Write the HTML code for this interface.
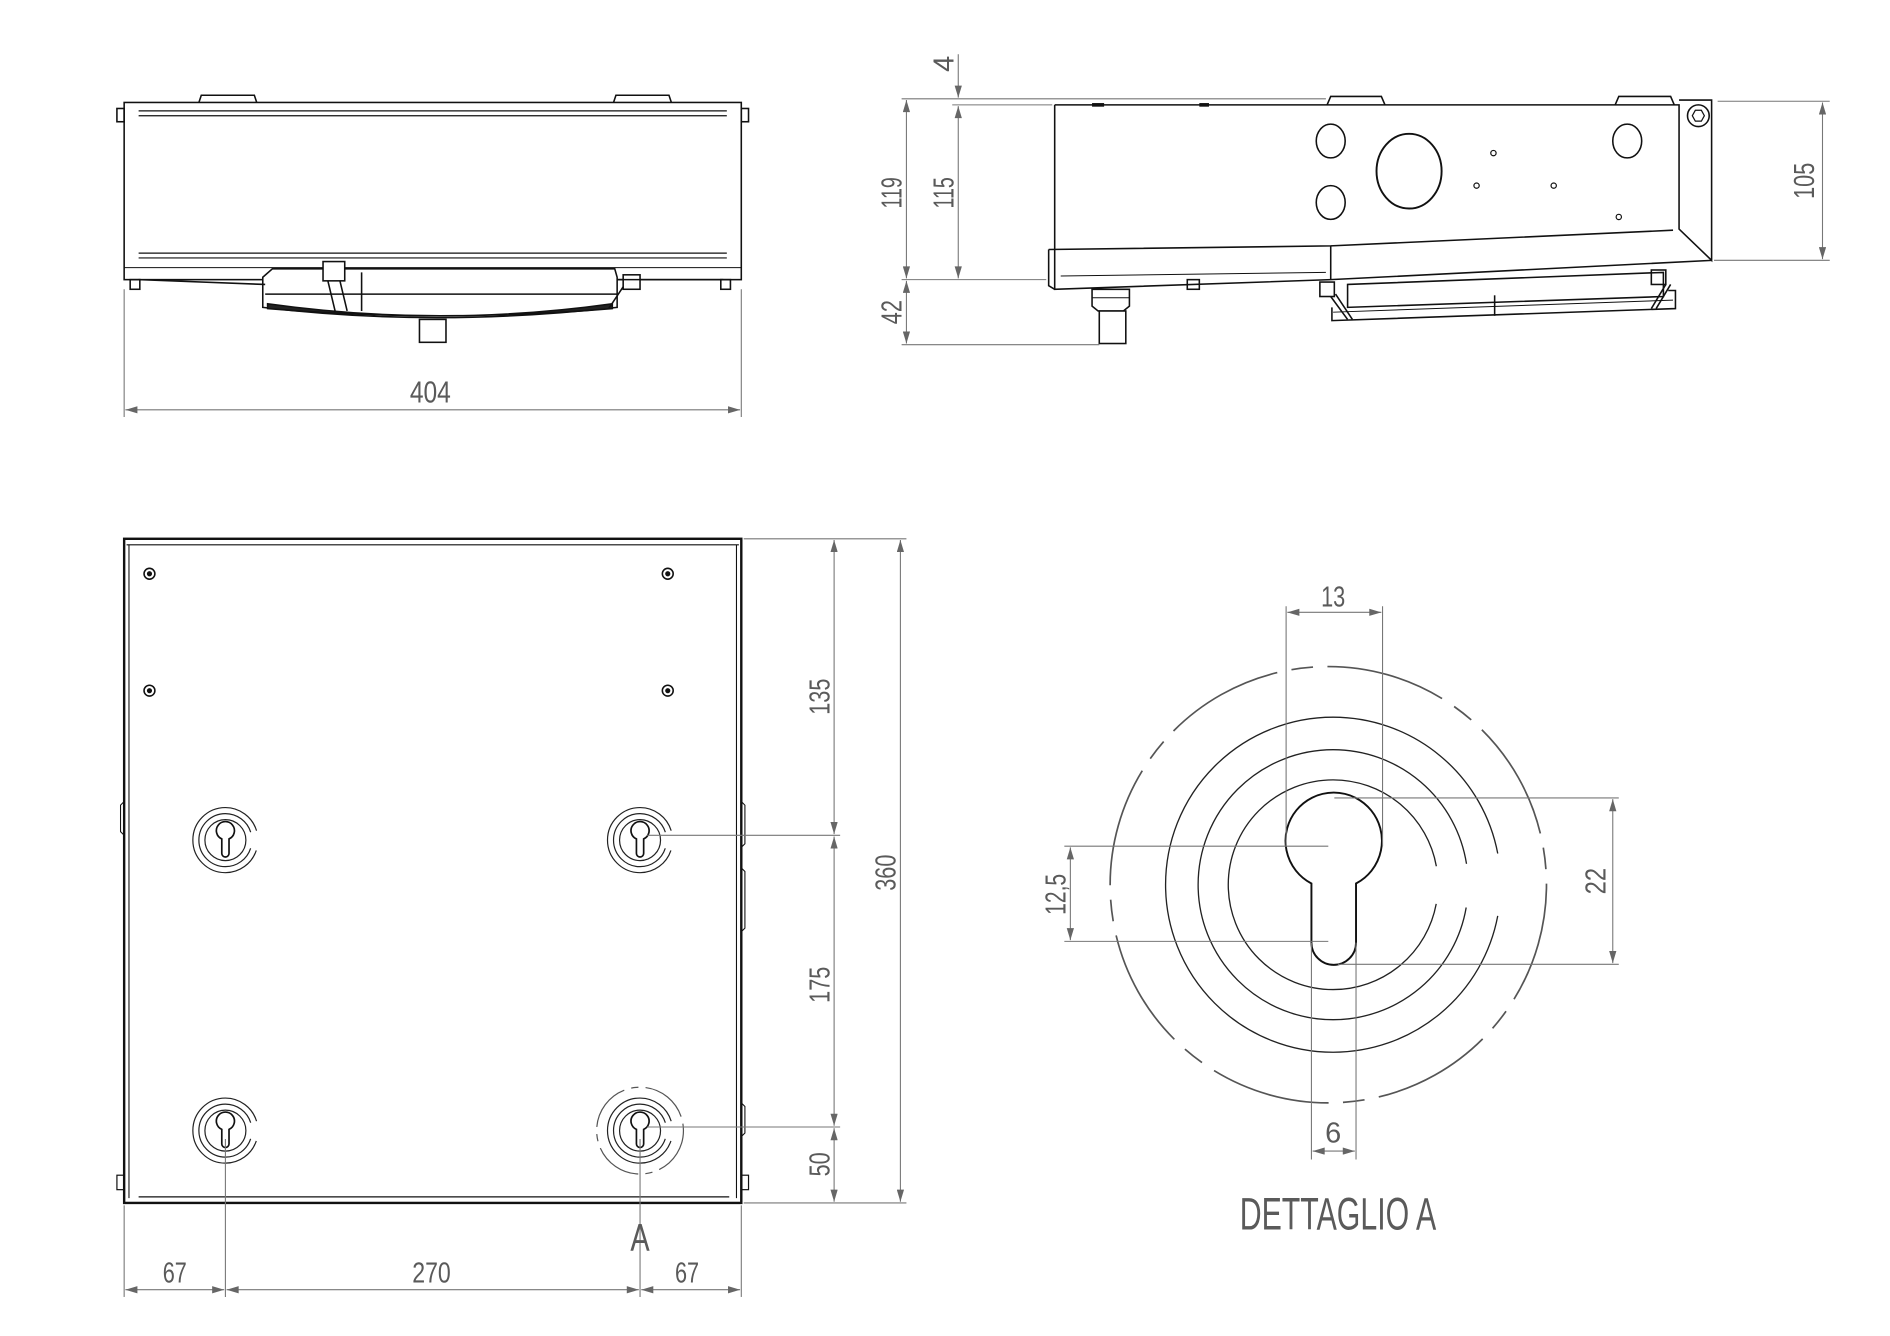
<!DOCTYPE html>
<html><head><meta charset="utf-8"><style>
html,body{margin:0;padding:0;background:#fff;}
svg{display:block}
text{font-family:"Liberation Sans Narrow","Liberation Sans",sans-serif;fill:#5a5a5a;}
</style></head><body>
<svg width="1890" height="1336" viewBox="0 0 1568 1108.4" preserveAspectRatio="none" xmlns="http://www.w3.org/2000/svg">
<defs>
<marker id="a" viewBox="0 0 10 6" refX="10" refY="3" markerWidth="14" markerHeight="6" markerUnits="userSpaceOnUse" orient="auto-start-reverse"><path d="M0,0L10,3L0,6Z" fill="#666"/></marker>
<g id="kh">
 <circle r="27" fill="none" stroke="#222" stroke-width="1" stroke-dasharray="152.7 17" stroke-dashoffset="161"/>
 <circle r="22" fill="none" stroke="#222" stroke-width="1" stroke-dasharray="124.4 13.8" stroke-dashoffset="131.3"/>
 <circle r="17" fill="none" stroke="#222" stroke-width="1"/>
 <path d="M-3,-1 A7.5,7.5 0 1 1 3,-1 L3,11 A3,3 0 0 1 -3,11 Z" fill="none" stroke="#111" stroke-width="1.4"/>
</g>
</defs>

<!-- ============ FRONT VIEW (top-left) ============ -->
<g fill="none" stroke="#111" stroke-width="1.3">
 <rect x="103" y="85" width="512" height="147"/>
 <line x1="115" y1="92" x2="603" y2="92" stroke-width="1"/>
 <line x1="115" y1="96" x2="603" y2="96" stroke-width="1"/>
 <line x1="115" y1="210" x2="603" y2="210" stroke-width="1"/>
 <line x1="115" y1="214" x2="603" y2="214" stroke-width="1"/>
 <path d="M165,85 L167,79 L211,79 L213,85"/>
 <path d="M509,85 L511,79 L555,79 L557,85"/>
 <rect x="97" y="90" width="6" height="11"/>
 <rect x="615" y="90" width="6" height="11"/>
 <rect x="108" y="232" width="8" height="8"/>
 <rect x="598" y="232" width="8" height="8"/>
 <path d="M103,222 L615,222" stroke-width="0.8"/>
 <!-- fan -->
 <path d="M218,230 L226,223 L510,223 L512,230 L512,255 Q360,272 218,255 Z" fill="#fff"/>
 <path d="M220,244 L512,244"/>
 <path d="M222,252 Q365,272 508,252 L508,256 Q365,268 222,256 Z" fill="#222"/>
 <rect x="348" y="265" width="22" height="19" fill="#fff"/>
 <rect x="268" y="217" width="18" height="16" fill="#fff"/>
 <path d="M272,233 L278,258 M282,233 L288,258 M300,226 L300,258"/>
 <rect x="517" y="228" width="14" height="12" fill="#fff"/>
 <path d="M517,238 L505,256 M115,232 L220,236 M512,232 L600,232"/>
</g>
<!-- dim 404 -->
<g stroke="#777" stroke-width="0.9" fill="none">
 <line x1="103" y1="240" x2="103" y2="346"/>
 <line x1="615" y1="240" x2="615" y2="346"/>
 <line x1="104" y1="340" x2="614" y2="340" marker-start="url(#a)" marker-end="url(#a)"/>
</g>
<text x="357" y="334" font-size="25" text-anchor="middle" textLength="34" lengthAdjust="spacingAndGlyphs">404</text>

<!-- ============ SIDE VIEW (top-right) ============ -->
<g fill="none" stroke="#111" stroke-width="1.3">
 <path d="M875,87 L1393,87 L1393,190 L1420,216 L1420,83 L1393,83"/>
 <path d="M875,87 L875,240 L1104,232 L1420,216"/>
 <path d="M870,207 L1104,204 L1388,191"/>
 <path d="M870,207 L870,237 L875,240"/>
 <line x1="1104" y1="204" x2="1104" y2="232"/>
 <line x1="880" y1="229" x2="1100" y2="226" stroke-width="0.8"/>
 <circle cx="1409" cy="96" r="9"/>
 <path d="M1404,96 L1406.5,91.5 L1411.5,91.5 L1414,96 L1411.5,100.5 L1406.5,100.5 Z" stroke-width="1"/>
 <path d="M1101,87 L1104,80 L1146,80 L1149,87"/>
 <path d="M1340,87 L1343,80 L1386,80 L1389,87"/>
 <ellipse cx="1104" cy="117" rx="12" ry="14"/>
 <ellipse cx="1104" cy="168" rx="12" ry="14"/>
 <ellipse cx="1169" cy="142" rx="27" ry="31" stroke-width="1.6"/>
 <ellipse cx="1350" cy="117" rx="12" ry="14"/>
 <circle cx="1239" cy="127" r="2.2" stroke-width="1"/>
 <circle cx="1225" cy="154" r="2.2" stroke-width="1"/>
 <circle cx="1289" cy="154" r="2.2" stroke-width="1"/>
 <circle cx="1343" cy="180" r="2.2" stroke-width="1"/>
 <line x1="906" y1="87" x2="916" y2="87" stroke-width="3"/>
 <line x1="995" y1="87" x2="1003" y2="87" stroke-width="3"/>
 <!-- fitting -->
 <path d="M906,240 L906,254 L911,258 L932,258 L937,254 L937,240 Z" fill="#fff"/>
 <rect x="912" y="258" width="22" height="27" fill="#fff"/>
 <line x1="906" y1="247" x2="937" y2="247" stroke-width="0.8"/>
 <rect x="985" y="232" width="10" height="8"/>
 <!-- fan side -->
 <path d="M1118,236 L1380,226 L1380,246 L1118,255 Z" fill="#fff"/>
 <path d="M1105,255 L1105,266 L1390,256 L1390,241 L1384,241"/>
 <path d="M1106,259 L1388,249" stroke-width="0.8"/>
 <rect x="1095" y="234" width="12" height="12"/>
 <rect x="1370" y="224" width="12" height="12"/>
 <path d="M1104,246 L1118,265 M1108,244 L1122,265 M1382,236 L1370,256 M1386,236 L1374,256"/>
 <line x1="1240" y1="245" x2="1240" y2="262"/>
</g>
<g stroke="#777" stroke-width="0.9" fill="none">
 <line x1="748" y1="82" x2="1100" y2="82"/>
 <line x1="790" y1="87" x2="873" y2="87"/>
 <line x1="748" y1="232" x2="868" y2="232"/>
 <line x1="748" y1="286" x2="912" y2="286"/>
 <line x1="752" y1="83" x2="752" y2="231" marker-start="url(#a)" marker-end="url(#a)"/>
 <line x1="752" y1="233" x2="752" y2="285" marker-start="url(#a)" marker-end="url(#a)"/>
 <line x1="795" y1="45" x2="795" y2="81" marker-end="url(#a)"/>
 <line x1="795" y1="88" x2="795" y2="231" marker-start="url(#a)" marker-end="url(#a)"/>
 <line x1="1425" y1="84" x2="1518" y2="84"/>
 <line x1="1422" y1="216" x2="1518" y2="216"/>
 <line x1="1512" y1="85" x2="1512" y2="215" marker-start="url(#a)" marker-end="url(#a)"/>
</g>
<g font-size="24">
 <text transform="translate(748,160) rotate(-90)" text-anchor="middle" textLength="26" lengthAdjust="spacingAndGlyphs">119</text>
 <text transform="translate(791,160) rotate(-90)" text-anchor="middle" textLength="26" lengthAdjust="spacingAndGlyphs">115</text>
 <text transform="translate(791,53) rotate(-90)" text-anchor="middle">4</text>
 <text transform="translate(748,259) rotate(-90)" text-anchor="middle" textLength="20" lengthAdjust="spacingAndGlyphs">42</text>
 <text transform="translate(1505,150) rotate(-90)" text-anchor="middle" textLength="30" lengthAdjust="spacingAndGlyphs">105</text>
</g>

<!-- ============ PLAN VIEW (bottom-left) ============ -->
<g fill="none" stroke="#111" stroke-width="1.3">
 <rect x="103" y="447" width="512" height="551" stroke-width="2"/>
 <line x1="105" y1="452" x2="613" y2="452" stroke-width="1"/>
 <line x1="107" y1="452" x2="107" y2="994" stroke-width="0.9"/>
 <line x1="611" y1="452" x2="611" y2="994" stroke-width="0.9"/>
 <line x1="115" y1="993" x2="605" y2="993" stroke-width="1"/>
 <rect x="97" y="975" width="6" height="12" stroke-width="1"/>
 <rect x="615" y="975" width="6" height="12" stroke-width="1"/>
 <path d="M615,665 L618,668 L618,700 L615,703 M615,720 L618,723 L618,770 L615,773 M615,915 L618,918 L618,940 L615,943 M103,665 L100,668 L100,690 L103,693" stroke-width="0.9"/>
 <circle cx="124" cy="476" r="4.5"/><circle cx="124" cy="476" r="1.5" fill="#111"/>
 <circle cx="554" cy="476" r="4.5"/><circle cx="554" cy="476" r="1.5" fill="#111"/>
 <circle cx="124" cy="573" r="4.5"/><circle cx="124" cy="573" r="1.5" fill="#111"/>
 <circle cx="554" cy="573" r="4.5"/><circle cx="554" cy="573" r="1.5" fill="#111"/>
</g>
<use href="#kh" x="187" y="697"/>
<use href="#kh" x="531" y="697"/>
<use href="#kh" x="187" y="938"/>
<use href="#kh" x="531" y="938"/>
<circle cx="531" cy="938" r="36" fill="none" stroke="#555" stroke-width="1" stroke-dasharray="40 6 6 6"/>
<g stroke="#777" stroke-width="0.9" fill="none">
 <line x1="537" y1="693" x2="697" y2="693"/>
 <line x1="537" y1="935" x2="697" y2="935"/>
 <line x1="617" y1="447" x2="752" y2="447"/>
 <line x1="617" y1="998" x2="752" y2="998"/>
 <line x1="692" y1="448" x2="692" y2="692" marker-start="url(#a)" marker-end="url(#a)"/>
 <line x1="692" y1="694" x2="692" y2="934" marker-start="url(#a)" marker-end="url(#a)"/>
 <line x1="692" y1="936" x2="692" y2="997" marker-start="url(#a)" marker-end="url(#a)"/>
 <line x1="747" y1="448" x2="747" y2="997" marker-start="url(#a)" marker-end="url(#a)"/>
 <line x1="103" y1="1000" x2="103" y2="1076"/>
 <line x1="187" y1="945" x2="187" y2="1076"/>
 <line x1="531" y1="945" x2="531" y2="1076"/>
 <line x1="615" y1="1000" x2="615" y2="1076"/>
 <line x1="104" y1="1070" x2="186" y2="1070" marker-start="url(#a)" marker-end="url(#a)"/>
 <line x1="188" y1="1070" x2="530" y2="1070" marker-start="url(#a)" marker-end="url(#a)"/>
 <line x1="532" y1="1070" x2="614" y2="1070" marker-start="url(#a)" marker-end="url(#a)"/>
</g>
<g font-size="24">
 <text transform="translate(688,578) rotate(-90)" text-anchor="middle" textLength="30" lengthAdjust="spacingAndGlyphs">135</text>
 <text transform="translate(688,817) rotate(-90)" text-anchor="middle" textLength="30" lengthAdjust="spacingAndGlyphs">175</text>
 <text transform="translate(688,966) rotate(-90)" text-anchor="middle" textLength="20" lengthAdjust="spacingAndGlyphs">50</text>
 <text transform="translate(743,724) rotate(-90)" text-anchor="middle" textLength="30" lengthAdjust="spacingAndGlyphs">360</text>
 <text x="145" y="1064" text-anchor="middle" textLength="20" lengthAdjust="spacingAndGlyphs">67</text>
 <text x="358" y="1064" text-anchor="middle" textLength="32" lengthAdjust="spacingAndGlyphs">270</text>
 <text x="570" y="1064" text-anchor="middle" textLength="20" lengthAdjust="spacingAndGlyphs">67</text>
 <text x="531" y="1038" text-anchor="middle" font-size="32" textLength="16" lengthAdjust="spacingAndGlyphs">A</text>
</g>

<!-- ============ DETTAGLIO A ============ -->
<g fill="none">
 <circle cx="1102" cy="734" r="181" stroke="#555" stroke-width="1.4" stroke-dasharray="100 12 18 12"/>
 <circle cx="1106" cy="734" r="139" stroke="#222" stroke-width="1.1" stroke-dasharray="821 52" stroke-dashoffset="847"/>
 <circle cx="1106" cy="734" r="112" stroke="#222" stroke-width="1.1" stroke-dasharray="667 37" stroke-dashoffset="685"/>
 <circle cx="1106" cy="734" r="87" stroke="#222" stroke-width="1.1" stroke-dasharray="515 32" stroke-dashoffset="531"/>
 <path d="M1088,733 A40,40 0 1 1 1125,733 L1125,782 A18.5,18.5 0 0 1 1088,782 Z" stroke="#111" stroke-width="1.6" fill="#fff"/>
</g>
<g stroke="#777" stroke-width="0.9" fill="none">
 <line x1="1067" y1="503" x2="1067" y2="702"/>
 <line x1="1147" y1="503" x2="1147" y2="702"/>
 <line x1="1068" y1="508" x2="1146" y2="508" marker-start="url(#a)" marker-end="url(#a)"/>
 <line x1="1107" y1="662" x2="1343" y2="662"/>
 <line x1="1110" y1="800" x2="1343" y2="800"/>
 <line x1="1338" y1="663" x2="1338" y2="799" marker-start="url(#a)" marker-end="url(#a)"/>
 <line x1="883" y1="702" x2="1102" y2="702"/>
 <line x1="883" y1="781" x2="1102" y2="781"/>
 <line x1="888" y1="703" x2="888" y2="780" marker-start="url(#a)" marker-end="url(#a)"/>
 <line x1="1088" y1="782" x2="1088" y2="962"/>
 <line x1="1125" y1="782" x2="1125" y2="962"/>
 <line x1="1089" y1="955" x2="1124" y2="955" marker-start="url(#a)" marker-end="url(#a)"/>
</g>
<g font-size="24">
 <text x="1106" y="503" text-anchor="middle" textLength="20" lengthAdjust="spacingAndGlyphs">13</text>
 <text transform="translate(1332,731) rotate(-90)" text-anchor="middle" textLength="22" lengthAdjust="spacingAndGlyphs">22</text>
 <text transform="translate(884,742) rotate(-90)" text-anchor="middle" textLength="34" lengthAdjust="spacingAndGlyphs">12,5</text>
 <text x="1106" y="948" text-anchor="middle">6</text>
 <text x="1110" y="1020" text-anchor="middle" font-size="38" textLength="163" lengthAdjust="spacingAndGlyphs">DETTAGLIO A</text>
</g>
</svg>
</body></html>
